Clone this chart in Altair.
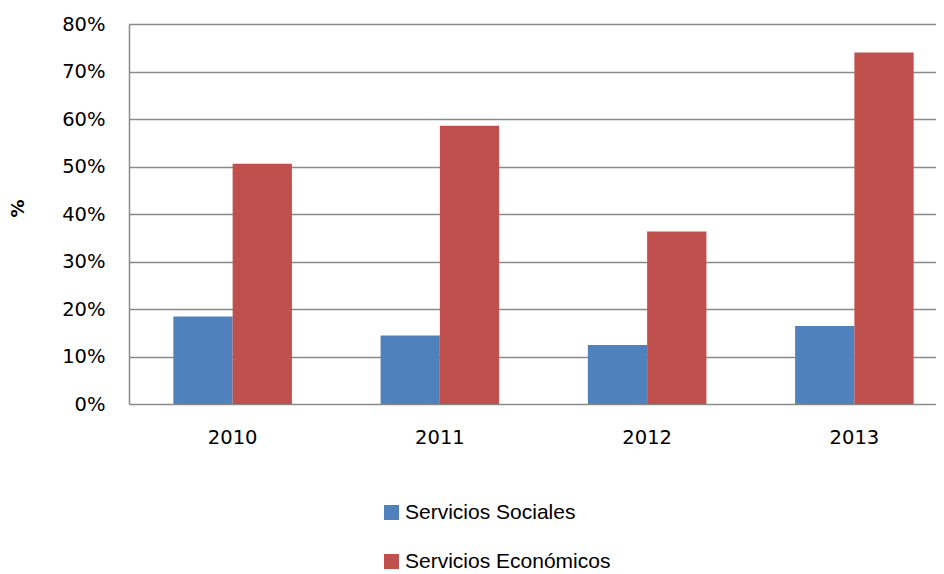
import altair as alt
import pandas as pd

years = ["2010", "2011", "2012", "2013"]
series_names = ["Servicios Sociales", "Servicios Económicos"]
sociales = [18.4, 14.4, 12.4, 16.4]
economicos = [50.6, 58.6, 36.3, 74.0]
colors = ["#4F81BD", "#C0504D"]
y_ticks = [0, 10, 20, 30, 40, 50, 60, 70, 80]

rows = []
for yr, s, e in zip(years, sociales, economicos):
    rows.append({"year": yr, "series": series_names[0], "value": s})
    rows.append({"year": yr, "series": series_names[1], "value": e})
df = pd.DataFrame(rows)

grid_color = "#8a8a8a"

chart = alt.Chart(df).mark_bar().encode(
    x=alt.X(
        "year:N", sort=years, title=None,
        scale=alt.Scale(range=[0, 829], paddingInner=0.428, paddingOuter=0.214),
        axis=alt.Axis(labelAngle=0, domain=False, ticks=False, grid=False,
                      labelFont="DejaVu Sans", labelFontSize=19.5,
                      labelColor="black", labelPadding=24),
    ),
    xOffset=alt.XOffset("series:N", sort=series_names),
    y=alt.Y(
        "value:Q",
        scale=alt.Scale(domain=[0, 80], nice=False),
        axis=alt.Axis(values=y_ticks, labelExpr="datum.value + '%'",
                      title="%", titleFont="DejaVu Sans", titleFontSize=18,
                      titleFontWeight="bold", titleColor="black",
                      titleX=-111, titleY=184, titleAlign="center",
                      titleBaseline="middle",
                      domain=True, domainColor=grid_color, domainWidth=1.5,
                      ticks=False, grid=True, gridColor=grid_color,
                      gridWidth=1.5, labelFont="DejaVu Sans",
                      labelFontSize=19.5, labelColor="black", labelPadding=24),
    ),
    color=alt.Color(
        "series:N", sort=series_names,
        scale=alt.Scale(domain=series_names, range=colors),
        legend=alt.Legend(title=None, orient="none", legendX=252, legendY=478,
                          direction="vertical", symbolType="square",
                          symbolSize=225, symbolStrokeWidth=0,
                          labelFont="Liberation Sans", labelFontSize=21,
                          labelColor="black", labelLimit=0,
                          rowPadding=27, labelOffset=3),
    ),
).properties(
    width=807, height=380,
    autosize=alt.AutoSizeParams(type="none"),
    padding={"left": 121, "top": 16, "right": 0, "bottom": 170},
).configure_view(stroke=None).configure(background="white")

chart.save("out.html", embed_options={"renderer": "svg", "actions": False})
